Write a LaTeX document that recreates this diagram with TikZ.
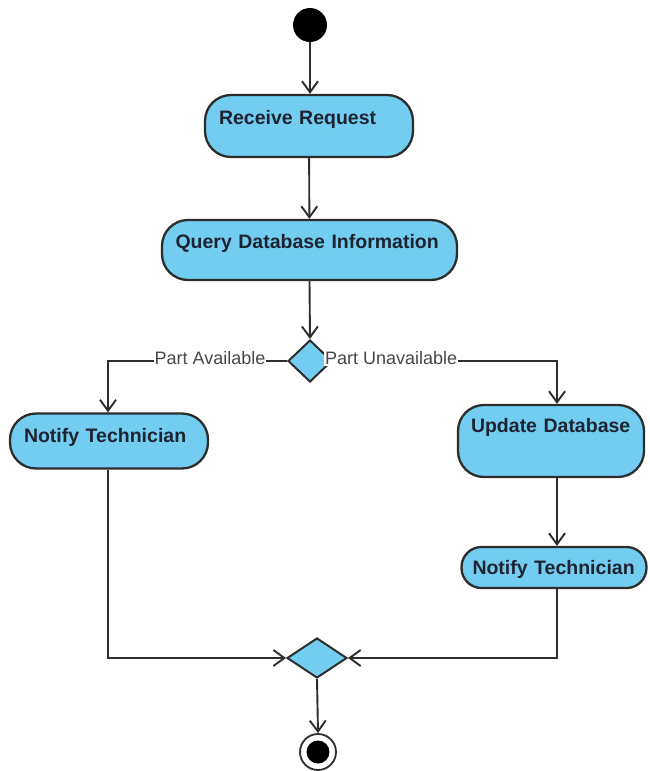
\documentclass[tikz,border=0pt]{standalone}
\usepackage{fontspec}
\setmainfont{Liberation Sans}
\usetikzlibrary{arrows.meta,calc,positioning,shapes.geometric}
\usepackage{xcolor}
\definecolor{actblue}{RGB}{115,205,240}
\definecolor{edgegray}{RGB}{45,45,45}
\definecolor{acttext}{RGB}{30,35,50}

\begin{document}
\begin{tikzpicture}[x=1pt,y=-1pt,>={Straight Barb[length=11pt,width=16pt]},
  act/.style={draw=edgegray, line width=2.3pt, fill=actblue, rounded corners=26pt,
    font=\fontsize{19.5}{22}\selectfont\bfseries, text=acttext, align=left,
    inner xsep=14pt, text height=14pt},
  decision/.style={diamond, draw=edgegray, line width=2pt, fill=actblue, inner sep=0pt},
  flow/.style={->, draw=edgegray, line width=1.9pt},
  guard/.style={font=\fontsize{18}{20}\selectfont, text=black!72, fill=white, inner sep=1pt}]
  \useasboundingbox (0,0) rectangle (649,771);

  \node[circle, fill=black, minimum size=34pt, inner sep=0pt] (start) at (310,25) {};
  \node[act, minimum height=62pt, text width=180pt, text depth=16.4pt] (recv) at (309,126) {Receive Request};
  \node[act, minimum height=60pt, text width=268pt, inner xsep=13.5pt, text depth=16.4pt] (query) at (309.5,250) {Query Database Information};
  \node[decision, minimum width=44pt, minimum height=42pt] (split) at (310,361) {};
  \node[act, minimum height=55pt, text width=170pt, text depth=10.4pt] (nta) at (109,441) {Notify Technician};
  \node[act, minimum height=72pt, text width=160pt, inner xsep=13pt, text depth=31.4pt] (upd) at (551,441) {Update Database};
  \node[act, minimum height=41pt, rounded corners=20pt, text width=163pt, inner xsep=11pt, text depth=0.4pt] (ntb) at (554,567.5) {Notify Technician};
  \node[decision, minimum width=60pt, minimum height=40pt] (merge) at (317,658) {};
  \node[circle, draw=edgegray, line width=1.8pt, fill=white, minimum size=36pt, inner sep=0pt] (final) at (318,752) {};
  \node[circle, fill=black, minimum size=23pt, inner sep=0pt] (finaldot) at (final) {};

  \coordinate (lbend) at (108,361);
  \coordinate (rbend) at (557,361);
  \coordinate (lfoot) at (108,658);
  \coordinate (rfoot) at (557,658);

  \draw[flow] (start) -- (start |- recv.north);
  \draw[flow] (recv) -- (query);
  \draw[flow] (query.south) -- (split.north);
  \draw[flow] (split.west) -- node[guard, pos=0.43, yshift=2.5pt] (avail) {Part Available} (lbend) -- (lbend |- nta.north);
  \draw[flow] (split.east) -- (rbend) -- (rbend |- upd.north);
  \node[guard, anchor=west, yshift=2.5pt] (unavail) at (324,361) {Part Unavailable};
  \draw[flow] (upd.south -| rbend) -- (ntb.north -| rbend);
  \draw[flow] (nta.south -| lbend) -- (lfoot) -- (merge.west);
  \draw[flow] (ntb.south -| rbend) -- (rfoot) -- (merge.east);
  \draw[flow] (merge.south) -- (final.north);
\end{tikzpicture}
\end{document}
